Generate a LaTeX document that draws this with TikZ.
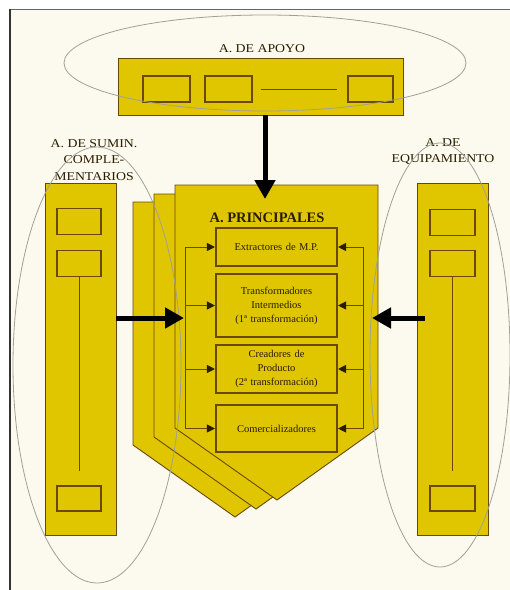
\documentclass[tikz,border=0pt]{standalone}
\usepackage{fontspec}
\setmainfont{Liberation Serif}
\usetikzlibrary{arrows.meta}
\definecolor{cream}{HTML}{FCFAEE}
\definecolor{gold}{HTML}{E0C600}
\definecolor{brownline}{HTML}{6A4800}
\definecolor{txt}{HTML}{2A1C00}
\definecolor{ell}{HTML}{A0A098}
\tikzset{
  goldshape/.style={fill=gold,draw=brownline,line width=0.9pt},
  smallbox/.style={draw=brownline,fill=gold,line width=1.3pt,minimum width=44pt,minimum height=26pt,inner sep=0pt},
  innerbox/.style={draw=brownline,fill=gold,line width=1.1pt,minimum width=121pt,text width=119pt,inner sep=1pt,align=center,text=txt,font=\fontsize{10.5}{14}\selectfont},
  thinarrow/.style={draw=brownline,line width=0.9pt,-{Triangle[length=8pt,width=8pt,color=txt]},shorten >=0.5pt},
  bigarrow/.style={draw=black,line width=5pt,-{Triangle[length=19pt,width=20pt]}},
  ellline/.style={draw=ell,line width=0.8pt},
  lbl/.style={text=txt,font=\fontsize{12}{14}\selectfont,inner sep=0pt,xscale=1.15}
}
\begin{document}
\begin{tikzpicture}[x=1pt,y=-1pt]
\useasboundingbox (0,0) rectangle (510,590);
\fill[white] (0,0) rectangle (510,590);
\fill[cream] (9,9) rectangle (510,590);
\draw[draw=gray!80!black,line width=1.2pt] (9,9.5) -- (510,9.5);
\draw[draw=gray!40!black,line width=2pt] (9.5,9) -- (9.5,590);

% top box
\node[goldshape,minimum width=285pt,minimum height=57pt,inner sep=0pt] (apoyo) at (260.5,86.5) {};
\node[smallbox,minimum width=47pt] (a1) at (166.5,89) {};
\node[smallbox,minimum width=47pt] (a2) at (228.5,89) {};
\node[smallbox,minimum width=45pt] (a3) at (370.5,89) {};
\draw[brownline,line width=0.6pt] ([xshift=8pt]a2.east) -- ([xshift=-10pt]a3.west);
\node[lbl] (tapoyo) at (262,49) {A. DE APOYO};

% left column
\node[goldshape,minimum width=71pt,minimum height=352pt,inner sep=0pt] (sumin) at (80.5,359) {};
\node[smallbox] (s1) at (79,221.5) {};
\node[smallbox] (s2) at (79,263.5) {};
\node[smallbox,minimum height=25pt] (s3) at (79,498.5) {};
\draw[brownline,line width=0.5pt] (s2.south) -- ([yshift=14pt]s3.north);
\node[lbl,align=center] (tsumin) at (94,160) {A. DE SUMIN.\\[2.5pt]COMPLE-\\[2.5pt]MENTARIOS};

% right column
\node[goldshape,minimum width=71pt,minimum height=352pt,inner sep=0pt] (equip) at (452.5,359) {};
\node[smallbox,minimum width=45pt] (e1) at (452.5,222.5) {};
\node[smallbox,minimum width=45pt] (e2) at (452.5,263.5) {};
\node[smallbox,minimum width=45pt,minimum height=25pt] (e3) at (452.5,498.5) {};
\draw[brownline,line width=0.5pt] (e2.south) -- ([yshift=14pt]e3.north);
\node[lbl,align=center] (tequip) at (443,152) {A. DE\\[2pt]EQUIPAMIENTO};

% principal stacked shapes
\foreach \dx/\dy in {-42/17,-21/9,0/0}{
  \draw[goldshape] (175+\dx,185+\dy) -- (378+\dx,185+\dy) -- (378+\dx,428+\dy) -- (277+\dx,500+\dy) -- (175+\dx,428+\dy) -- cycle;
}
\node[text=txt,font=\bfseries\fontsize{14.5}{16}\selectfont,inner sep=0pt] (tprin) at (267,218) {A. PRINCIPALES};

\node[innerbox,minimum height=38pt] (b1) at (276.5,247) {Extractores de M.P.};
\node[innerbox,minimum height=63pt] (b2) at (276.5,305.5) {Transformadores\\Intermedios\\(1ª transformación)};
\node[innerbox,minimum height=48pt] (b3) at (276.5,369) {Creadores de\\Producto\\(2ª transformación)};
\node[innerbox,minimum height=47pt] (b4) at (276.5,428.5) {Comercializadores};

\coordinate (L1) at (185,247);
\coordinate (L2) at (185,305.5);
\coordinate (L3) at (185,369);
\coordinate (L4) at (185,428.5);
\coordinate (R1) at (363,247);
\coordinate (R2) at (363,305.5);
\coordinate (R3) at (363,369);
\coordinate (R4) at (363,428.5);
\draw[brownline,line width=0.9pt] (L1) -- (L4);
\draw[brownline,line width=0.9pt] (R1) -- (R4);
\foreach \i in {1,2,3,4}{
  \draw[thinarrow] (L\i) -- (b\i.west);
  \draw[thinarrow] (R\i) -- (b\i.east);
}

% ellipses
\draw[ellline] (265,63) ellipse [x radius=201pt, y radius=48pt];
\draw[ellline] (97,365) ellipse [x radius=84pt, y radius=218pt];
\draw[ellline] (440,355) ellipse [x radius=70pt, y radius=212pt];

% big arrows
\coordinate (prtop) at (265,199);
\coordinate (prleft) at (184,318);
\coordinate (prright) at (372,318);
\draw[bigarrow] (apoyo.south -| prtop) -- (prtop);
\draw[bigarrow] (sumin.east |- prleft) -- (prleft);
\draw[bigarrow] ([xshift=8pt]equip.west |- prright) -- (prright);
\end{tikzpicture}
\end{document}
